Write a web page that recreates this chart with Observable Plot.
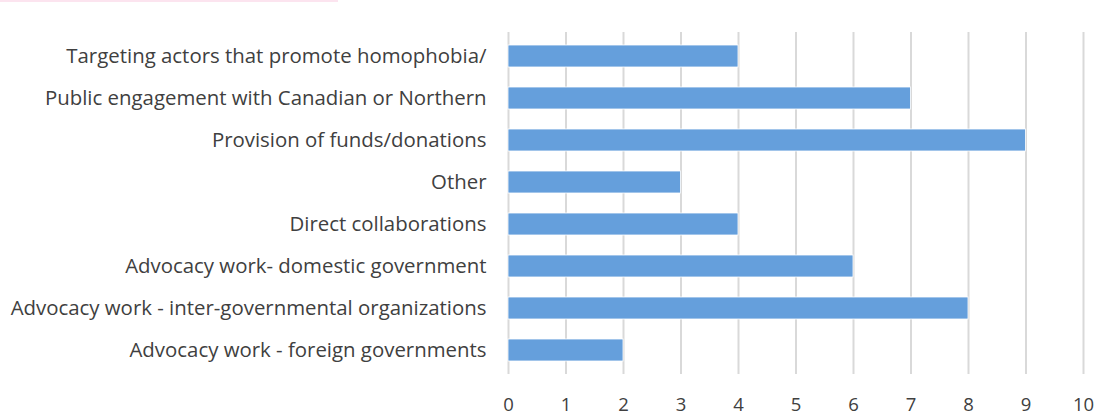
<!DOCTYPE html>
<html>
<head>
<meta charset="utf-8">
<script src="https://cdn.jsdelivr.net/npm/d3@7"></script>
<script src="https://cdn.jsdelivr.net/npm/@observablehq/plot@0.6"></script>
<style>
html, body { margin: 0; padding: 0; background: #fff; }
#strip { position: absolute; left: 0; top: 0; width: 338px; height: 2px; background: #fce4ef; z-index: 2; }
#chart { position: absolute; left: 0; top: 0; }
</style>
</head>
<body>
<div id="strip"></div>
<div id="chart"></div>
<script>
const categories = [
  "Targeting actors that promote homophobia/",
  "Public engagement with Canadian or Northern",
  "Provision of funds/donations",
  "Other",
  "Direct collaborations",
  "Advocacy work- domestic government",
  "Advocacy work - inter-governmental organizations",
  "Advocacy work - foreign governments"
];
const values = [4, 7, 9, 3, 4, 6, 8, 2];
const xTicks = [0, 1, 2, 3, 4, 5, 6, 7, 8, 9, 10];

const data = categories.map((c, i) => ({category: c, value: values[i]}));

const chart = Plot.plot({
  width: 1097,
  height: 417,
  marginLeft: 508,
  marginRight: 14,
  marginTop: 32,
  marginBottom: 43,
  style: {fontFamily: "'Open Sans', sans-serif", fontSize: "18px", color: "#404040", background: "#fff"},
  x: {domain: [0, 10], ticks: xTicks, label: null},
  y: {domain: categories, label: null, paddingInner: 0.47, paddingOuter: 0.24},
  marks: [
    Plot.gridX(xTicks, {stroke: "#d9d9d9", strokeOpacity: 1, strokeWidth: 2}),
    Plot.barX(data, {x: "value", y: "category", fill: "#659fdc", stroke: "#fff", strokeWidth: 0.8}),
    Plot.axisX({ticks: xTicks, tickSize: 0, tickPadding: 23, label: null, fill: "#404040", fontSize: 18.5}),
    Plot.axisY({tickSize: 0, tickPadding: 22, label: null, fill: "#404040", fontSize: 20.4})
  ]
});
document.getElementById("chart").appendChild(chart);
</script>
</body>
</html>
